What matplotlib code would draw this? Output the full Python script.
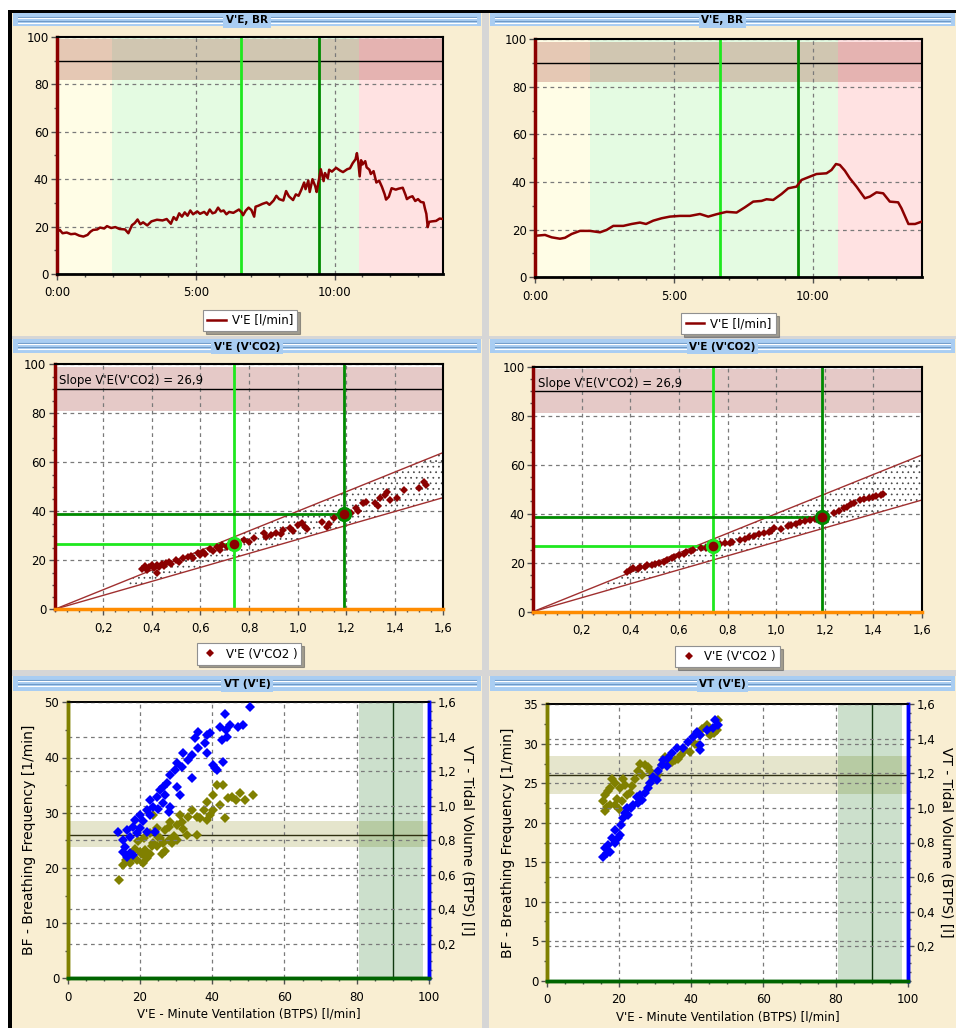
import matplotlib
matplotlib.use("Agg")
import matplotlib.pyplot as plt
from matplotlib.patches import Rectangle
from matplotlib.ticker import MultipleLocator, FuncFormatter, FixedLocator

# ---- data ----
# V'E over time, left test (minutes, l/min)
tl_t = [0.00, 0.03, 0.10, 0.20, 0.35, 0.50, 0.65, 0.80, 0.95, 1.10,
        1.20, 1.30, 1.45, 1.55, 1.70, 1.80, 1.95, 2.10, 2.25, 2.45,
        2.57, 2.70, 2.80, 2.90, 3.00, 3.10, 3.25, 3.40, 3.60, 3.80,
        3.95, 4.10, 4.20, 4.30, 4.40, 4.50, 4.60, 4.70, 4.80, 4.90,
        5.05, 5.15, 5.30, 5.40, 5.50, 5.60, 5.70, 5.80, 5.90, 6.00,
        6.10, 6.20, 6.35, 6.55, 6.65, 6.70, 6.80, 6.90, 7.00, 7.10,
        7.15, 7.25, 7.40, 7.55, 7.65, 7.80, 7.90, 8.00, 8.15, 8.25,
        8.35, 8.50, 8.60, 8.70, 8.80, 8.90, 8.95, 9.05, 9.10, 9.20,
        9.30, 9.35, 9.45, 9.50, 9.60, 9.65, 9.75, 9.80, 9.90, 10.05,
        10.20, 10.30, 10.45, 10.55, 10.65, 10.75, 10.80, 10.85, 10.90, 10.95,
        11.00, 11.10, 11.15, 11.25, 11.30, 11.40, 11.50, 11.60, 11.70, 11.80,
        11.85, 11.95, 12.05, 12.20, 12.30, 12.45, 12.55, 12.60, 12.70, 12.80,
        12.90, 13.00, 13.10, 13.20, 13.25, 13.30, 13.35, 13.40, 13.50, 13.65,
        13.78, 13.90]
tl_ve = [14.5, 18.0, 18.6, 17.2, 17.5, 16.8, 17.0, 16.2, 15.8, 16.5,
         17.8, 18.6, 18.8, 19.6, 19.2, 20.2, 19.4, 19.8, 19.0, 18.8,
         17.2, 20.6, 21.5, 23.0, 21.0, 21.8, 20.5, 22.2, 22.9, 22.6,
         23.2, 21.2, 24.0, 22.8, 25.6, 24.2, 26.0, 24.6, 26.8, 25.2,
         26.4, 25.4, 26.2, 25.0, 27.2, 25.6, 26.0, 28.0, 26.4, 26.8,
         25.2, 26.2, 25.8, 27.2, 26.0, 24.8, 26.8, 28.0, 27.0, 24.2,
         28.4, 28.8, 29.6, 30.2, 29.2, 31.0, 33.0, 31.6, 31.0, 35.0,
         32.8, 31.2, 33.6, 33.0, 35.6, 38.6, 35.8, 39.4, 34.6, 40.0,
         37.0, 34.6, 41.0, 44.2, 39.2, 42.6, 40.4, 44.0, 43.2, 44.8,
         43.6, 43.0, 44.2, 44.6, 46.8, 48.4, 51.0, 47.2, 41.2, 48.0,
         46.2, 47.6, 45.0, 44.0, 42.2, 43.4, 38.6, 39.4, 36.8, 33.6,
         31.4, 32.6, 36.2, 35.6, 36.0, 36.4, 33.4, 31.6, 32.4, 32.8,
         30.8, 31.6, 30.4, 30.2, 27.6, 25.4, 19.8, 22.0, 22.2, 22.4,
         23.4, 23.2]

# V'E over time, right test (smoothed)
tr_t = [0.00, 0.06, 0.36, 0.60, 0.90, 1.08, 1.32, 1.62, 1.98, 2.34,
        2.58, 2.82, 3.18, 3.48, 3.78, 4.00, 4.26, 4.56, 4.86, 5.22,
        5.58, 5.94, 6.24, 6.54, 6.90, 7.26, 7.56, 7.86, 8.16, 8.34,
        8.58, 8.88, 9.12, 9.42, 9.60, 9.90, 10.14, 10.50, 10.68, 10.84,
        10.98, 11.16, 11.34, 11.58, 11.88, 12.06, 12.30, 12.54, 12.78, 13.08,
        13.20, 13.45, 13.69, 13.93]
tr_ve = [17.5, 17.5, 17.8, 16.8, 16.2, 16.6, 18.2, 19.5, 19.5, 18.9,
         19.9, 21.6, 21.6, 22.4, 23.0, 22.4, 23.8, 24.8, 25.5, 25.8,
         25.8, 26.6, 25.5, 26.5, 27.5, 27.2, 29.4, 31.8, 32.1, 32.8,
         32.5, 35.0, 37.4, 38.1, 40.9, 42.3, 43.4, 43.7, 45.1, 47.6,
         47.2, 44.8, 41.6, 38.1, 33.2, 33.9, 35.7, 35.3, 31.8, 31.5,
         29.0, 22.4, 22.4, 23.4]

# zones and thresholds (minutes)
tl_zones = [1.98, 10.87]
tr_zones = [1.98, 10.91]
tl_thresholds = [6.63, 9.42]
tr_thresholds = [6.66, 9.46]
tl_xmax, tr_xmax = 13.9, 13.95

# V'E(V'CO2) scatter, left test
ml_vco2 = [0.36, 0.37, 0.38, 0.39, 0.40, 0.41, 0.42, 0.42, 0.43, 0.44,
           0.45, 0.46, 0.47, 0.48, 0.50, 0.51, 0.53, 0.55, 0.56, 0.57,
           0.59, 0.60, 0.61, 0.62, 0.64, 0.65, 0.67, 0.68, 0.69, 0.71,
           0.72, 0.78, 0.80, 0.82, 0.86, 0.87, 0.89, 0.91, 0.93, 0.94,
           0.97, 0.98, 1.00, 1.02, 1.03, 1.04, 1.10, 1.12, 1.13, 1.15,
           1.22, 1.24, 1.25, 1.27, 1.28, 1.32, 1.33, 1.34, 1.36, 1.37,
           1.38, 1.41, 1.44, 1.50, 1.52, 1.53]
ml_ve = [16.5, 17.8, 16.2, 17.4, 18.0, 16.8, 14.8, 18.1, 17.2, 18.6,
         17.6, 18.9, 19.4, 18.4, 20.1, 19.2, 20.8, 21.2, 21.8, 20.9,
         22.9, 22.0, 23.5, 22.6, 24.6, 23.8, 25.3, 24.4, 26.2, 25.6,
         26.8, 28.3, 27.6, 29.0, 31.0, 29.6, 30.3, 31.3, 30.6, 32.4,
         33.0, 31.8, 34.4, 35.1, 33.6, 32.6, 35.7, 33.7, 35.0, 37.1,
         39.2, 41.2, 40.0, 43.2, 43.9, 43.2, 42.0, 45.3, 46.6, 48.0,
         44.6, 45.3, 48.7, 49.4, 52.1, 50.7]

# V'E(V'CO2) scatter, right test
mr_vco2 = [0.385, 0.40, 0.41, 0.43, 0.44, 0.46, 0.47, 0.49, 0.50, 0.52,
           0.54, 0.55, 0.57, 0.58, 0.60, 0.62, 0.63, 0.65, 0.66, 0.69,
           0.71, 0.77, 0.79, 0.81, 0.82, 0.85, 0.87, 0.89, 0.91, 0.93,
           0.95, 0.97, 0.98, 0.99, 1.02, 1.05, 1.06, 1.08, 1.10, 1.12,
           1.14, 1.16, 1.24, 1.26, 1.28, 1.29, 1.31, 1.32, 1.345, 1.36,
           1.38, 1.40, 1.41, 1.43, 1.44]
mr_ve = [16.3, 17.0, 17.7, 17.6, 18.4, 18.4, 19.1, 19.0, 19.3, 20.0,
         20.4, 21.1, 21.8, 22.5, 23.2, 23.4, 24.2, 24.6, 25.2, 25.9,
         26.2, 27.6, 27.9, 28.2, 28.6, 29.4, 29.7, 30.4, 31.1, 31.6,
         32.0, 32.4, 33.0, 34.0, 33.8, 34.9, 35.2, 36.0, 36.5, 37.0,
         37.5, 38.0, 40.2, 41.2, 42.2, 42.9, 43.8, 44.3, 45.7, 46.0,
         46.6, 47.0, 47.4, 47.8, 48.0]

# slope corridor lines and thresholds
corr_x = [0.0, 1.6]
corr_hi = [0.0, 64.0]
corr_lo = [0.0, 45.6]
hatch_x = [0.3, 1.6]
hatch_hi = [12.0, 64.0]
hatch_lo = [8.6, 45.6]
ml_points = [(0.74, 26.5), (1.19, 38.8)]
mr_points = [(0.742, 26.8), (1.19, 38.8)]

# BF and VT vs V'E, left test
bl_bf_ve = [14.3, 15.4, 16.0, 17.2, 18.0, 19.1, 20.0, 20.9, 21.5, 21.9,
            20.5, 22.8, 23.2, 24.6, 23.7, 25.0, 26.5, 27.9, 25.5, 29.3,
            30.2, 33.0, 35.7, 22.8, 24.6, 26.9, 30.2, 28.3, 31.5, 33.4,
            35.7, 23.7, 31.1, 34.3, 37.6, 36.6, 39.4, 38.5, 40.3, 42.1,
            43.5, 44.4, 45.4, 46.7, 47.7, 49.0, 51.4, 40.3, 41.2, 43.1,
            38.5, 27.0, 29.0, 32.0, 18.5, 19.5, 21.0, 17.0, 26.0, 28.0]
bl_bf = [17.8, 20.5, 21.4, 20.8, 22.0, 21.4, 22.8, 20.8, 23.2, 21.8,
         22.6, 22.6, 24.0, 23.9, 24.5, 25.6, 24.5, 25.1, 25.4, 25.7,
         25.1, 26.0, 26.0, 26.3, 27.2, 26.9, 27.8, 28.4, 28.4, 29.3,
         29.3, 29.6, 29.6, 30.5, 30.5, 29.0, 29.6, 28.7, 30.5, 31.4,
         29.0, 32.6, 32.9, 32.3, 33.5, 32.3, 33.2, 33.2, 35.0, 35.0,
         32.0, 23.0, 24.5, 27.0, 23.5, 24.8, 25.4, 22.2, 22.5, 27.5]
bl_vt_ve = [14.0, 15.4, 15.8, 15.4, 16.3, 17.2, 18.2, 16.3, 17.2, 18.2,
            19.1, 20.0, 18.6, 20.9, 20.0, 21.9, 24.2, 22.8, 21.9, 23.7,
            22.8, 24.6, 26.5, 27.9, 28.3, 25.5, 26.5, 27.4, 30.2, 31.1,
            28.3, 29.7, 30.2, 31.5, 33.4, 32.0, 34.3, 34.3, 36.2, 38.5,
            38.0, 35.2, 36.2, 38.5, 39.4, 42.6, 40.3, 41.2, 40.9, 43.1,
            42.1, 43.9, 47.2, 48.6, 43.5, 50.5, 45.0, 44.0, 25.0, 27.0]
bl_vt = [0.846, 0.802, 0.764, 0.735, 0.706, 0.725, 0.716, 0.860, 0.822, 0.880,
         0.841, 0.870, 0.918, 0.909, 0.947, 0.851, 0.851, 0.947, 0.976, 0.995,
         1.034, 1.053, 1.015, 0.966, 0.995, 1.092, 1.111, 1.130, 1.111, 1.062,
         1.178, 1.207, 1.246, 1.227, 1.265, 1.304, 1.294, 1.159, 1.333, 1.304,
         1.362, 1.391, 1.426, 1.410, 1.420, 1.381, 1.236, 1.207, 1.217, 1.256,
         1.459, 1.440, 1.459, 1.468, 1.532, 1.571, 1.470, 1.400, 0.980, 1.060]

# BF and VT vs V'E, right test
br_bf_ve = [15.7, 16.1, 16.6, 17.0, 17.5, 18.0, 17.5, 18.9, 19.5, 20.3,
            20.8, 21.0, 21.7, 22.1, 23.0, 23.5, 24.5, 25.4, 25.9, 26.5,
            27.2, 28.0, 28.6, 29.5, 30.2, 30.9, 31.8, 32.7, 33.5, 34.6,
            35.5, 36.4, 37.3, 38.2, 39.6, 41.0, 42.0, 42.4, 42.9, 44.3,
            45.2, 46.2, 47.1, 47.5, 19.0, 16.0, 20.0]
br_bf = [22.7, 23.5, 22.0, 24.0, 24.4, 25.6, 22.2, 22.2, 23.0, 24.4,
         22.7, 25.5, 24.8, 23.5, 23.8, 24.6, 25.6, 26.5, 27.5, 26.0,
         27.3, 27.0, 26.5, 25.6, 25.8, 26.2, 27.3, 28.3, 27.8, 27.7,
         28.0, 28.1, 28.6, 29.2, 28.9, 30.0, 29.8, 31.1, 31.9, 32.4,
         31.1, 31.4, 31.7, 33.0, 25.0, 21.5, 21.8]
br_vt_ve = [15.7, 16.1, 16.6, 17.1, 17.5, 18.0, 18.9, 19.8, 20.3, 21.2,
            21.7, 22.1, 22.6, 23.3, 24.0, 24.9, 25.4, 25.9, 26.3, 27.2,
            28.1, 28.6, 29.5, 30.4, 30.9, 31.8, 32.3, 33.2, 33.7, 34.6,
            36.0, 37.8, 39.2, 40.6, 41.5, 42.4, 42.4, 42.4, 44.3, 46.1,
            47.5, 46.6, 19.0, 20.5]
br_vt = [0.718, 0.766, 0.740, 0.785, 0.747, 0.824, 0.872, 0.824, 0.843, 0.940,
         0.969, 0.998, 0.959, 1.000, 1.017, 1.065, 1.027, 1.075, 1.046, 1.085,
         1.114, 1.143, 1.182, 1.162, 1.211, 1.249, 1.278, 1.240, 1.288, 1.317,
         1.346, 1.346, 1.384, 1.413, 1.442, 1.423, 1.365, 1.336, 1.452, 1.461,
         1.480, 1.509, 0.800, 0.900]

titles = ["V'E, BR", "V'E (V'CO2)", "VT (V'E)"]

# ---- layout ----
W, H = 956, 1028
plt.rcParams['font.family'] = ['DejaVu Sans']
plt.rcParams['hatch.linewidth'] = 0.5
fig = plt.figure(figsize=(W / 100, H / 100), dpi=100)

DARKRED = '#8B0000'
CREAM = '#F9EED2'
GRID = dict(color='#7a7a7a', linestyle=(0, (3, 3)), linewidth=0.9)


def rect(l, t, r, b):
    return [l / W, 1 - b / H, (r - l) / W, (b - t) / H]


bg = fig.add_axes([0, 0, 1, 1])
bg.set_xlim(0, W)
bg.set_ylim(H, 0)
bg.axis('off')
bg.add_patch(Rectangle((11, 13), W - 11, H - 13, color='#D6D6D6', lw=0))
bg.add_patch(Rectangle((8, 10), W - 8, 3, color='black', lw=0))
bg.add_patch(Rectangle((8, 10), 4, H - 10, color='black', lw=0))

cols = [(12, 482), (489, 956)]
rows = [(13, 336, 26), (339, 670, 353), (676, 1028, 691)]
for (x0, x1) in cols:
    for (y0, y1, yt), title in zip(rows, titles):
        bg.add_patch(Rectangle((x0, y0), x1 - x0, y1 - y0, color=CREAM, lw=0))
        bg.add_patch(Rectangle((x0 + 1, y0), x1 - x0 - 2, yt - y0, color='#A9CDF2', lw=0))
        for dy, c in [(3.5, '#6F9AC8'), (5, 'white'), (8, '#6F9AC8'), (9.5, 'white')]:
            bg.plot([x0 + 6, x1 - 6], [y0 + dy] * 2, color=c, lw=0.8)
        bg.text((x0 + x1) / 2, (y0 + yt) / 2 + 0.5, title, ha='center', va='center',
                fontsize=7.5, fontweight='bold',
                bbox=dict(facecolor='#A9CDF2', edgecolor='none', pad=1.8))


def style_ticks(ax):
    ax.tick_params(which='major', length=4, width=1, color='#505050', labelsize=8.5, pad=2)
    ax.tick_params(which='minor', length=2, width=1, color='#505050')


def legend(ax, offset):
    leg = ax.legend(loc='upper center', bbox_to_anchor=(0.5, -offset), fontsize=8.5,
                    frameon=True, fancybox=False, shadow=True, borderpad=0.35,
                    handlelength=1.6, handletextpad=0.5)
    leg.get_frame().set_edgecolor('#909090')
    leg.get_frame().set_linewidth(0.8)


def mmss(v, _):
    m = int(v)
    s = int(round((v - m) * 60))
    return f"{m}:{s:02d}"


def comma(v, _):
    return f"{v:.1f}".replace('.', ',')


def top_panel(box, t, ve, xmax, zones, thr):
    ax = fig.add_axes(rect(*box))
    ax.set_xlim(0, xmax)
    ax.set_ylim(0, 100)
    ax.axvspan(0, zones[0], color='#FFFDE6', lw=0, zorder=0.1)
    ax.axvspan(zones[0], zones[1], color='#E4FBE2', lw=0, zorder=0.1)
    ax.axvspan(zones[1], xmax, color='#FFE2E2', lw=0, zorder=0.1)
    ax.axhspan(82, 99, color='#8B0C03', alpha=0.22, lw=0, zorder=0.2)
    ax.set_axisbelow(True)
    ax.grid(True, **GRID)
    ax.axhline(90, color='black', lw=1, zorder=1)
    ax.axvline(thr[0], color='#1EE81E', lw=2, zorder=1.5)
    ax.axvline(thr[1], color='#008A00', lw=2, zorder=1.5)
    ax.plot(t, ve, color=DARKRED, lw=1.8, zorder=3, label="V'E [l/min]")
    ax.xaxis.set_major_locator(MultipleLocator(5))
    ax.xaxis.set_minor_locator(MultipleLocator(1))
    ax.xaxis.set_major_formatter(FuncFormatter(mmss))
    ax.yaxis.set_major_locator(MultipleLocator(20))
    ax.yaxis.set_minor_locator(MultipleLocator(10))
    style_ticks(ax)
    ax.tick_params(axis='x', pad=5)
    for s in ['top', 'right']:
        ax.spines[s].set_linewidth(1.5)
    ax.spines['bottom'].set_linewidth(2)
    ax.spines['left'].set_color(DARKRED)
    ax.spines['left'].set_linewidth(2.5)
    legend(ax, 0.125)


def mid_panel(box, x, y, pts):
    ax = fig.add_axes(rect(*box))
    ax.set_xlim(0, 1.6)
    ax.set_ylim(0, 100)
    ax.axhspan(81, 99, color='#8B0C03', alpha=0.22, lw=0, zorder=0.2)
    ax.set_axisbelow(True)
    ax.grid(True, **GRID)
    ax.axhline(90, color='black', lw=1, zorder=1)
    ax.fill_between(hatch_x, hatch_lo, hatch_hi, facecolor='none', edgecolor='#444444',
                    hatch='...', lw=0, zorder=1)
    ax.plot(corr_x, corr_hi, color='#A03030', lw=1, zorder=1.2)
    ax.plot(corr_x, corr_lo, color='#A03030', lw=1, zorder=1.2)
    (x1, y1), (x2, y2) = pts
    ax.axvline(x1, color='#1EE81E', lw=2, zorder=1.5)
    ax.plot([0, x1], [y1, y1], color='#1EE81E', lw=2, zorder=1.5)
    ax.axvline(x2, color='#008A00', lw=2, zorder=1.5)
    ax.plot([0, x2], [y2, y2], color='#008A00', lw=2, zorder=1.5)
    ax.plot(x, y, 'D', color=DARKRED, ms=4, mew=0, zorder=3, label="V'E (V'CO2 )")
    ax.plot([x1], [y1], 'o', ms=9, mfc=DARKRED, mec='#1EE81E', mew=2, zorder=4)
    ax.plot([x2], [y2], 'o', ms=9, mfc=DARKRED, mec='#008A00', mew=2, zorder=4)
    ax.text(0.012, 0.96, "Slope V'E(V'CO2) = 26,9", transform=ax.transAxes,
            ha='left', va='top', fontsize=8.5, zorder=5)
    ax.xaxis.set_major_locator(FixedLocator([0.2, 0.4, 0.6, 0.8, 1.0, 1.2, 1.4, 1.6]))
    ax.xaxis.set_minor_locator(MultipleLocator(0.05))
    ax.xaxis.set_major_formatter(FuncFormatter(comma))
    ax.yaxis.set_major_locator(MultipleLocator(20))
    ax.yaxis.set_minor_locator(MultipleLocator(5))
    style_ticks(ax)
    ax.tick_params(axis='x', pad=5)
    for s in ['top', 'right']:
        ax.spines[s].set_linewidth(1.5)
    ax.spines['bottom'].set_color('#FF8C00')
    ax.spines['bottom'].set_linewidth(2.5)
    ax.spines['left'].set_color(DARKRED)
    ax.spines['left'].set_linewidth(2.5)
    legend(ax, 0.115)


def bot_panel(box, bf_x, bf, vt_x, vt, ymax, ystep):
    ax = fig.add_axes(rect(*box))
    ax.set_xlim(0, 100)
    ax.set_ylim(0, ymax)
    ax.axhspan(23.7, 28.5, color='#808000', alpha=0.2, lw=0, zorder=0.2)
    ax.axvspan(80.6, 98.3, color='#006400', alpha=0.2, lw=0, zorder=0.2)
    ax.set_axisbelow(True)
    ax.grid(True, **GRID)
    ax.axhline(26, color='#303010', lw=1, zorder=1)
    ax.axvline(90, color='#103810', lw=1, zorder=1)
    ax.plot(bf_x, bf, 'D', color='#808000', ms=4.6, mew=0, zorder=3)
    ax.xaxis.set_major_locator(MultipleLocator(20))
    ax.xaxis.set_minor_locator(MultipleLocator(5))
    ax.yaxis.set_major_locator(MultipleLocator(ystep))
    ax.yaxis.set_minor_locator(MultipleLocator(ystep / 2))
    style_ticks(ax)
    ax.tick_params(axis='x', pad=5)
    ax.set_xlabel("V'E - Minute Ventilation (BTPS) [l/min]", fontsize=8.5, labelpad=3)
    ax.set_ylabel("BF - Breathing Frequency [1/min]", fontsize=10, labelpad=6)

    ax2 = ax.twinx()
    ax2.set_ylim(0, 1.6)
    ax2.grid(True, axis='y', **GRID)
    ax2.plot(vt_x, vt, 'D', color='#0000FF', ms=4.6, mew=0, zorder=3)
    ax2.yaxis.set_major_locator(FixedLocator([0.2, 0.4, 0.6, 0.8, 1.0, 1.2, 1.4, 1.6]))
    ax2.yaxis.set_minor_locator(MultipleLocator(0.05))
    ax2.yaxis.set_major_formatter(FuncFormatter(comma))
    style_ticks(ax2)
    ax2.set_ylabel("VT - Tidal Volume (BTPS) [l]", fontsize=10, rotation=270, labelpad=13)
    for a in (ax, ax2):
        a.spines['top'].set_linewidth(1.2)
        a.spines['left'].set_color('#808000')
        a.spines['left'].set_linewidth(2.5)
        a.spines['right'].set_color('#0000FF')
        a.spines['right'].set_linewidth(2.5)
        a.spines['bottom'].set_color('#006400')
        a.spines['bottom'].set_linewidth(2.5)


top_panel((57, 37, 443, 274), tl_t, tl_ve, tl_xmax, tl_zones, tl_thresholds)
top_panel((535, 39.3, 922.3, 277.3), tr_t, tr_ve, tr_xmax, tr_zones, tr_thresholds)
mid_panel((54.7, 364.3, 443.3, 609.3), ml_vco2, ml_ve, ml_points)
mid_panel((533, 366.7, 922, 611.7), mr_vco2, mr_ve, mr_points)
bot_panel((67.7, 702.3, 429, 978.3), bl_bf_ve, bl_bf, bl_vt_ve, bl_vt, 50, 10)
bot_panel((546.7, 704.3, 908, 980.7), br_bf_ve, br_bf, br_vt_ve, br_vt, 35, 5)

fig.savefig('out.png', dpi=100)
